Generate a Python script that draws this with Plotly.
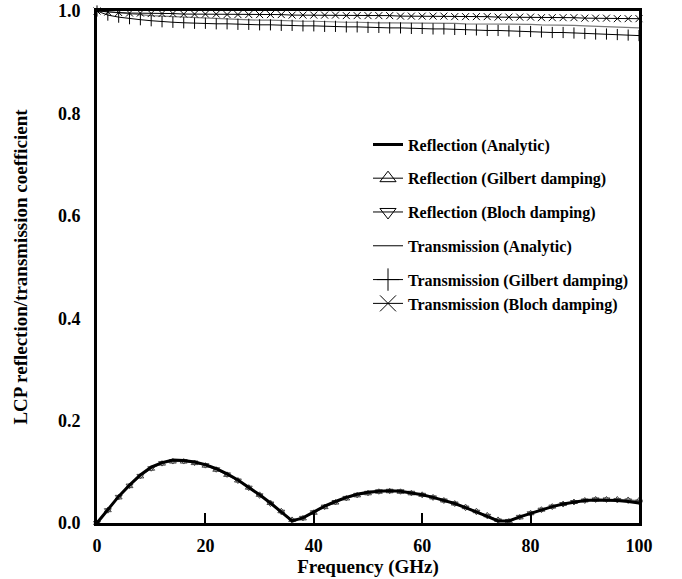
import plotly.graph_objects as go

freq = [0, 2, 4, 6, 8, 10, 12, 14, 16, 18, 20, 22, 24, 26, 28, 30, 32, 34, 36, 38,
        40, 42, 44, 46, 48, 50, 52, 54, 56, 58, 60, 62, 64, 66, 68, 70, 72, 74, 76, 78,
        80, 82, 84, 86, 88, 90, 92, 94, 96, 98, 100]

refl_analytic = [0.000, 0.026, 0.052, 0.074, 0.094, 0.109, 0.118, 0.123, 0.122, 0.119,
                 0.114, 0.106, 0.096, 0.084, 0.070, 0.055, 0.039, 0.022, 0.004, 0.010,
                 0.022, 0.033, 0.042, 0.050, 0.056, 0.060, 0.062, 0.063, 0.062, 0.059,
                 0.055, 0.050, 0.044, 0.038, 0.030, 0.022, 0.013, 0.004, 0.004, 0.012,
                 0.019, 0.026, 0.032, 0.037, 0.041, 0.044, 0.045, 0.045, 0.044, 0.042,
                 0.039]

refl_gilbert = [0.000, 0.025, 0.050, 0.072, 0.091, 0.106, 0.116, 0.120, 0.120, 0.117,
                0.112, 0.104, 0.094, 0.083, 0.069, 0.055, 0.039, 0.023, 0.006, 0.009,
                0.020, 0.031, 0.040, 0.048, 0.054, 0.058, 0.061, 0.062, 0.061, 0.058,
                0.055, 0.050, 0.044, 0.038, 0.031, 0.023, 0.015, 0.006, 0.003, 0.011,
                0.019, 0.026, 0.032, 0.037, 0.041, 0.044, 0.046, 0.046, 0.046, 0.045,
                0.044]

refl_bloch = [0.000, 0.025, 0.051, 0.073, 0.092, 0.107, 0.117, 0.121, 0.121, 0.118,
              0.113, 0.105, 0.095, 0.083, 0.069, 0.054, 0.038, 0.022, 0.005, 0.010,
              0.021, 0.032, 0.041, 0.049, 0.055, 0.059, 0.062, 0.063, 0.062, 0.059,
              0.055, 0.050, 0.044, 0.038, 0.030, 0.022, 0.014, 0.005, 0.004, 0.012,
              0.019, 0.026, 0.032, 0.037, 0.041, 0.044, 0.046, 0.046, 0.045, 0.044,
              0.042]

trans_analytic = [1.000, 0.998, 0.996, 0.994, 0.993, 0.991, 0.990, 0.989, 0.988, 0.987,
                  0.986, 0.985, 0.984, 0.984, 0.983, 0.982, 0.982, 0.981, 0.981, 0.980,
                  0.980, 0.979, 0.979, 0.978, 0.978, 0.977, 0.977, 0.977, 0.977, 0.976,
                  0.976, 0.976, 0.976, 0.976, 0.975, 0.975, 0.975, 0.975, 0.974, 0.974,
                  0.974, 0.973, 0.973, 0.972, 0.972, 0.971, 0.970, 0.970, 0.969, 0.968,
                  0.967]

trans_gilbert = [1.000, 0.992, 0.988, 0.985, 0.983, 0.981, 0.979, 0.978, 0.977, 0.976,
                 0.976, 0.975, 0.975, 0.974, 0.974, 0.973, 0.973, 0.972, 0.972, 0.971,
                 0.971, 0.970, 0.970, 0.969, 0.969, 0.968, 0.968, 0.967, 0.967, 0.966,
                 0.966, 0.965, 0.965, 0.964, 0.964, 0.963, 0.962, 0.962, 0.961, 0.960,
                 0.960, 0.959, 0.958, 0.958, 0.957, 0.956, 0.955, 0.955, 0.954, 0.953,
                 0.952]

trans_bloch = [1.000, 0.998, 0.997, 0.996, 0.996, 0.995, 0.995, 0.995, 0.994, 0.994,
               0.994, 0.994, 0.993, 0.993, 0.993, 0.993, 0.993, 0.993, 0.992, 0.992,
               0.992, 0.992, 0.992, 0.991, 0.991, 0.991, 0.991, 0.991, 0.990, 0.990,
               0.990, 0.990, 0.990, 0.989, 0.989, 0.989, 0.989, 0.988, 0.988, 0.988,
               0.988, 0.987, 0.987, 0.987, 0.987, 0.986, 0.986, 0.986, 0.985, 0.985,
               0.985]

names = ["Reflection (Analytic)", "Reflection (Gilbert damping)", "Reflection (Bloch damping)",
         "Transmission (Analytic)", "Transmission (Gilbert damping)", "Transmission (Bloch damping)"]
legend_groups = ["g0", "g1", "g2", "g3", "g4", "g4"]

x_ticks = [0, 20, 40, 60, 80, 100]
y_ticks = [0.0, 0.2, 0.4, 0.6, 0.8, 1.0]
y_tick_text = ["0.0", "0.2", "0.4", "0.6", "0.8", "1.0"]

FONT = "Liberation Serif, Times New Roman, serif"

fig = go.Figure()

# data traces (no legend)
series = [
    (trans_analytic, dict(mode="lines", line=dict(color="#7a7a7a", width=1.2))),
    (trans_gilbert, dict(mode="lines+markers", line=dict(color="black", width=1),
                         marker=dict(symbol="line-ns", size=8, line=dict(color="black", width=1)))),
    (trans_bloch, dict(mode="lines+markers", line=dict(color="black", width=1),
                       marker=dict(symbol="x-thin", size=7, line=dict(color="black", width=1)))),
    (refl_gilbert, dict(mode="lines+markers", line=dict(color="#555555", width=1),
                        marker=dict(symbol="triangle-up-open", size=6, color="#444444",
                                    line=dict(width=1)))),
    (refl_bloch, dict(mode="lines+markers", line=dict(color="#555555", width=1),
                      marker=dict(symbol="triangle-down-open", size=6, color="#444444",
                                  line=dict(width=1)))),
    (refl_analytic, dict(mode="lines", line=dict(color="black", width=3))),
]
for vals, style in series:
    fig.add_trace(go.Scatter(x=freq, y=vals, showlegend=False, cliponaxis=False,
                             hoverinfo="skip", **style))

# legend entries
legend_styles = [
    dict(mode="lines", line=dict(color="black", width=3)),
    dict(mode="lines+markers", line=dict(color="black", width=1),
         marker=dict(symbol="triangle-up-open", size=14, color="black", line=dict(width=1))),
    dict(mode="lines+markers", line=dict(color="black", width=1),
         marker=dict(symbol="triangle-down-open", size=14, color="black", line=dict(width=1))),
    dict(mode="lines", line=dict(color="black", width=1)),
    dict(mode="lines+markers", line=dict(color="black", width=1),
         marker=dict(symbol="cross-thin", size=16, color="black", line=dict(color="black", width=1))),
    dict(mode="lines+markers", line=dict(color="black", width=1),
         marker=dict(symbol="x-thin", size=16, color="black", line=dict(color="black", width=1))),
]
for nm, grp, st in zip(names, legend_groups, legend_styles):
    fig.add_trace(go.Scatter(x=[None], y=[None], name=nm, legendgroup=grp,
                             showlegend=True, **st))

axis_common = dict(
    showline=True, linecolor="black", linewidth=3, mirror=True,
    showgrid=False, zeroline=False, automargin=False, ticklabeloverflow="allow",
    tickfont=dict(family=FONT, size=18, color="black", weight="bold"),
)

fig.update_layout(
    width=682, height=579,
    margin=dict(l=97, r=43, t=11, b=56, autoexpand=False),
    paper_bgcolor="white", plot_bgcolor="white",
    font=dict(family=FONT, color="black"),
    xaxis=dict(range=[0, 100], tickvals=x_ticks, ticks="inside", ticklen=10,
               tickwidth=2, tickcolor="black", ticklabelstandoff=4,
               title=dict(text="Frequency (GHz)", standoff=2,
                          font=dict(family=FONT, size=19, color="black", weight="bold")),
               **axis_common),
    yaxis=dict(range=[0, 1.0], tickvals=y_ticks, ticktext=y_tick_text, ticks="",
               ticklabelstandoff=10,
               title=dict(text="LCP reflection/transmission coefficient", standoff=26,
                          font=dict(family=FONT, size=19, color="black", weight="bold")),
               **axis_common),
    legend=dict(x=0.5, y=0.7725, xanchor="left", yanchor="top",
                bgcolor="rgba(0,0,0,0)", borderwidth=0, tracegroupgap=10,
                font=dict(family=FONT, size=16, color="black", weight="bold")),
)

fig.write_html("out.html", config={"displayModeBar": False},
               post_script="document.body.style.margin='0px';")
